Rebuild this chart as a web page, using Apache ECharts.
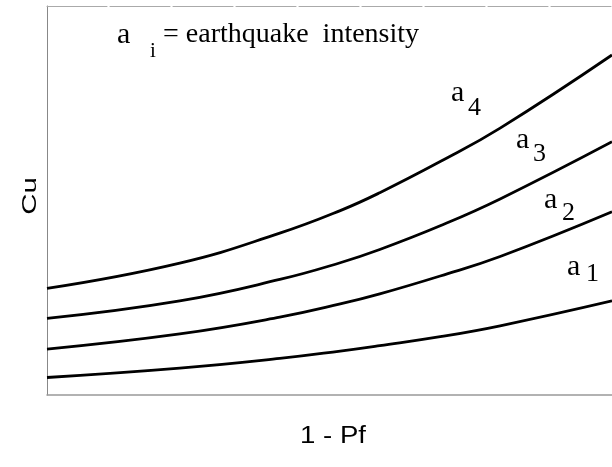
<!DOCTYPE html>
<html>
<head>
<meta charset="utf-8">
<script src="https://cdn.jsdelivr.net/npm/echarts@6/dist/echarts.min.js"></script>
<style>
  html, body { margin: 0; padding: 0; background: #fff; }
  #chart { width: 612px; height: 467px; }
</style>
</head>
<body>
<div id="chart"></div>
<script>
// Reliability level (1 - Pf) sampled along the horizontal axis
const reliability = [0, 0.235, 0.412, 0.519, 0.589, 0.696, 0.802, 1.0];

// Cu curves for each earthquake intensity a1..a4 (relative units)
const cuA1 = [4.5, 6.9, 9.4, 11.3, 12.7, 15.0, 17.8, 24.2];
const cuA2 = [11.8, 15.7, 20.0, 23.4, 26.0, 30.6, 35.6, 47.1];
const cuA3 = [19.7, 24.2, 29.7, 34.0, 37.4, 43.5, 50.4, 65.1];
const cuA4 = [27.4, 33.9, 41.6, 47.4, 52.0, 60.0, 68.6, 87.4];

const seriesNames = ['a1', 'a2', 'a3', 'a4'];
const seriesValues = [cuA1, cuA2, cuA3, cuA4];

const chart = echarts.init(document.getElementById('chart'), null, { renderer: 'canvas' });

const serif = '"Liberation Serif", "Times New Roman", serif';
const sans = '"Liberation Sans", Arial, sans-serif';

// Curve label "a" with a subscript index
function subLabel(main, sub, ax, ay, sx, sy, subSize) {
  return [
    { type: 'text', x: ax, y: ay, silent: true,
      style: { text: main, font: '30px ' + serif, fill: '#000', textVerticalAlign: 'middle' } },
    { type: 'text', x: sx, y: sy, silent: true,
      style: { text: sub, font: subSize + 'px ' + serif, fill: '#000', textVerticalAlign: 'middle' } }
  ];
}

const graphics = [].concat(
  subLabel('a', 'i', 117, 35, 150, 51, 21),
  [{ type: 'text', x: 163, y: 35, silent: true,
     style: { text: '= earthquake  intensity', font: '28px ' + serif, fill: '#000', textVerticalAlign: 'middle' } }],
  subLabel('a', '4', 451, 93, 468, 108, 26),
  subLabel('a', '3', 516, 140, 533, 154, 26),
  subLabel('a', '2', 544, 200, 562, 213, 26),
  subLabel('a', '1', 567, 267, 586, 274, 26),
  [
    { type: 'text', x: 333, y: 437, scaleX: 1.2, silent: true,
      style: { text: '1 - Pf', font: '23px ' + sans, fill: '#000', textAlign: 'center', textVerticalAlign: 'middle' } },
    { type: 'text', x: 30, y: 196, rotation: Math.PI / 2, scaleX: 1.4, silent: true,
      style: { text: 'Cu', font: '21px ' + sans, fill: '#000', textAlign: 'center', textVerticalAlign: 'middle' } }
  ]
);

const option = {
  animation: false,
  backgroundColor: '#fff',
  grid: { left: 47, right: 0, top: 6, bottom: 72 },
  xAxis: [
    {
      type: 'value', min: 0, max: 1, position: 'bottom',
      axisLine: { show: true, onZero: false, lineStyle: { color: '#999', width: 1.5 } },
      axisTick: { show: false }, axisLabel: { show: false }, splitLine: { show: false }
    },
    {
      type: 'value', min: 0, max: 1, position: 'top',
      axisLine: { show: true, onZero: false, lineStyle: { color: '#aaa', width: 1, type: [60, 3] } },
      axisTick: { show: false }, axisLabel: { show: false }, splitLine: { show: false }
    }
  ],
  yAxis: {
    type: 'value', min: 0, max: 100,
    axisLine: { show: true, onZero: false, lineStyle: { color: '#888', width: 1 } },
    axisTick: { show: false }, axisLabel: { show: false }, splitLine: { show: false }
  },
  series: seriesNames.map((name, i) => ({
    name: name,
    type: 'line',
    xAxisIndex: 0,
    smooth: 0.45,
    showSymbol: false,
    symbol: 'none',
    lineStyle: { color: '#000', width: 2.8 },
    data: reliability.map((x, j) => [x, seriesValues[i][j]])
  })),
  graphic: graphics
};

chart.setOption(option);
</script>
</body>
</html>
